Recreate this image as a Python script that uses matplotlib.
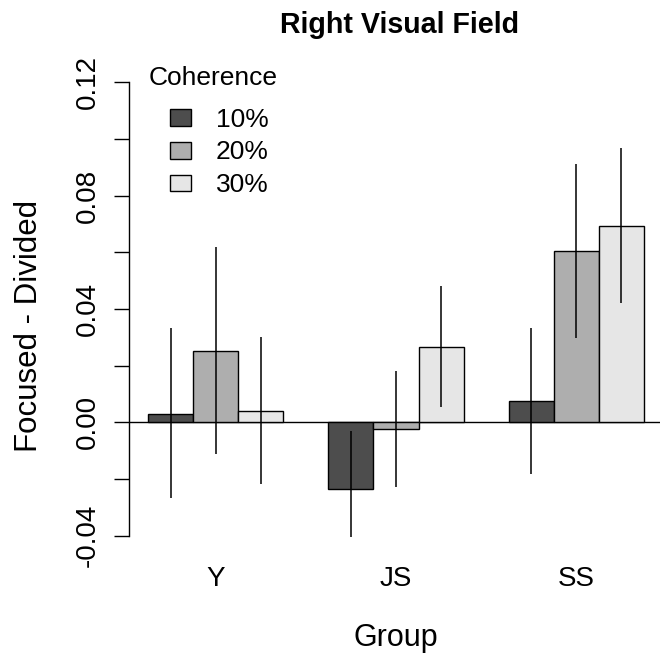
import matplotlib
matplotlib.use("Agg")
import matplotlib.pyplot as plt
from matplotlib.patches import Rectangle
import numpy as np

plt.rcParams["font.family"] = ["Liberation Sans", "DejaVu Sans"]

groups = ["Y", "JS", "SS"]
coherence = ["10%", "20%", "30%"]
colors = ["#4D4D4D", "#AEAEAE", "#E6E6E6"]

# mean difference (focused - divided) per group, one list per coherence level
diff_10 = [0.0030, -0.0235, 0.0075]
diff_20 = [0.0252, -0.0024, 0.0605]
diff_30 = [0.0041, 0.0266, 0.0694]

# interval ends for the error lines
lo_10 = [-0.0268, -0.0404, -0.0182]
hi_10 = [0.0332, -0.0031, 0.0333]
lo_20 = [-0.0113, -0.0229, 0.0299]
hi_20 = [0.0618, 0.0181, 0.0911]
lo_30 = [-0.0218, 0.0053, 0.0422]
hi_30 = [0.0300, 0.0480, 0.0967]

means = [diff_10, diff_20, diff_30]
lows = [lo_10, lo_20, lo_30]
highs = [hi_10, hi_20, hi_30]

W, H = 660, 655
fig = plt.figure(figsize=(W / 100, H / 100), dpi=100)


def fpos(x, y):
    # pixel position (from top left) -> figure fraction
    return x / W, 1 - y / H


# plot region in pixels (left, top, right, bottom)
pl, pt, pr, pb = 128.5, 64.2, 663.5, 553.8
ax = fig.add_axes([pl / W, 1 - pb / H, (pr - pl) / W, (pb - pt) / H])
ax.set_xlim(0.56, 12.44)
ax.set_ylim(-0.0464, 0.1264)
for s in ax.spines.values():
    s.set_visible(False)

ax.axhline(0, color="black", lw=1.0, zorder=1)

ngroups = len(groups)
for k in range(len(coherence)):
    x = 1.5 + k + 4 * np.arange(ngroups)
    ax.bar(x, means[k], width=1.0, color=colors[k], edgecolor="black",
           linewidth=1.0, zorder=2)
    ax.vlines(x, lows[k], highs[k], color="black", lw=1.1, zorder=3)

# y axis drawn R style: line spans the tick range only
yt = np.arange(-0.04, 0.1201, 0.02)
ax.plot([0.56, 0.56], [yt[0], yt[-1]], color="black", lw=1.0,
        clip_on=False, zorder=4)
ax.set_yticks(yt)
ax.set_yticklabels(["%.2f" % v if i % 2 == 0 else "" for i, v in enumerate(yt)],
                   rotation=90, va="center", fontsize=20)
ax.tick_params(axis="y", length=10.8, width=1.0, pad=8.9)

ax.set_xticks(2.5 + 4 * np.arange(ngroups))
ax.set_xticklabels(groups, fontsize=20)
ax.tick_params(axis="x", length=0, pad=9.1)

fig.text(*fpos(396, 646), "Group", fontsize=22, ha="center", va="baseline")
fig.text(*fpos(37.3, 326), "Focused - Divided", fontsize=22.5,
         rotation=90, rotation_mode="anchor", ha="center", va="baseline")
fig.text(*fpos(399.3, 33.3), "Right Visual Field", fontsize=20.6,
         fontweight="bold", ha="center", va="baseline")

# legend block
fig.text(*fpos(148.3, 85), "Coherence", fontsize=19, ha="left", va="baseline")
for k, lab in enumerate(coherence):
    top = 109.3 + 32.7 * k
    x0, y0 = fpos(170, top + 16.7)
    fig.patches.append(Rectangle((x0, y0), 20.7 / W, 16.7 / H,
                                 transform=fig.transFigure, facecolor=colors[k],
                                 edgecolor="black", linewidth=1.0))
    fig.text(*fpos(216, top + 17.4), lab, fontsize=19, ha="left", va="baseline")

fig.savefig("out.png", dpi=100)
